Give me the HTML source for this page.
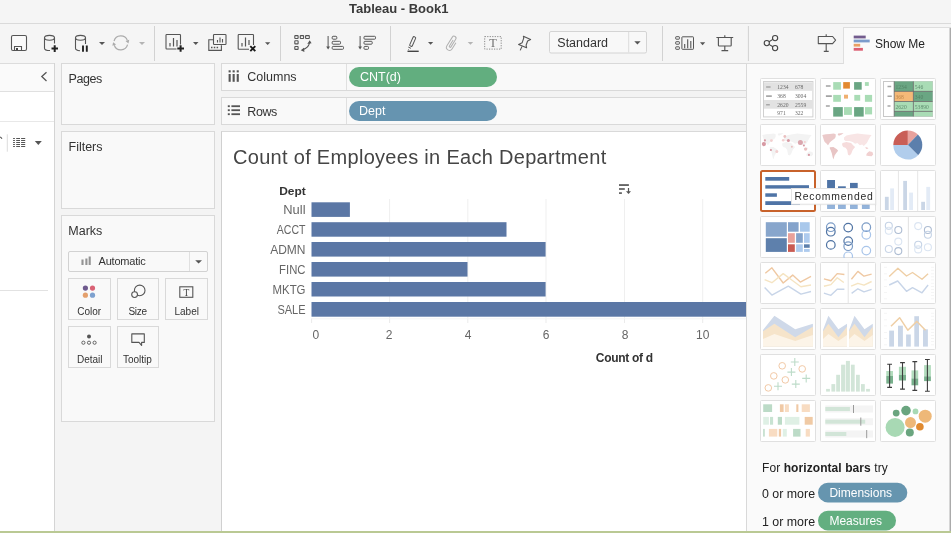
<!DOCTYPE html>
<html><head><meta charset="utf-8">
<style>
*{box-sizing:border-box;margin:0;padding:0}
html,body{width:951px;height:533px;overflow:hidden;will-change:transform;background:#f3f3f3;font-family:"Liberation Sans",Arial,sans-serif;color:#333}
.a{position:absolute}
.t{position:absolute;white-space:nowrap;line-height:1}
</style></head><body>
<!-- title bar -->
<div class="a" style="left:0;top:0;width:951px;height:23px;background:#f5f5f5"></div>
<div class="a" style="left:0;top:23px;width:951px;height:1px;background:#dadada"></div>
<div class="t" style="left:349px;top:2px;font-size:13px;font-weight:bold;color:#3a3a3a">Tableau - Book1</div>
<!-- toolbar bg -->
<div class="a" style="left:0;top:24px;width:951px;height:39px;background:#f5f5f5"></div>

<!-- left panel -->
<div class="a" style="left:0;top:63px;width:55px;height:468px;background:#fff;border-top:1px solid #dcdcdc;border-right:1px solid #d8d8d8"></div>
<div class="a" style="left:0;top:64px;width:54px;height:28px;background:#fafafa;border-bottom:1px solid #e0e0e0"></div>
<div class="a" style="left:0;top:121px;width:54px;height:1px;background:#e8e8e8"></div>
<div class="a" style="left:0;top:290px;width:48px;height:1px;background:#e2e2e2"></div>

<!-- middle column -->
<div class="a" style="left:54px;top:63px;width:168px;height:468px;background:#f4f4f4;border-left:1px solid #d4d4d4"></div>
<div class="a" style="left:61px;top:63px;width:154px;height:62px;background:#f9f9f9;border:1px solid #d9d9d9"></div>
<div class="a" style="left:61px;top:131px;width:154px;height:78px;background:#f9f9f9;border:1px solid #d9d9d9"></div>
<div class="a" style="left:61px;top:215px;width:154px;height:207px;background:#f9f9f9;border:1px solid #d9d9d9"></div>
<div class="t" style="left:68.5px;top:73.2px;font-size:12.5px;letter-spacing:-0.4px;color:#333">Pages</div>
<div class="t" style="left:68.5px;top:140.5px;font-size:12.5px;color:#333">Filters</div>
<div class="t" style="left:68.3px;top:224.7px;font-size:12.5px;color:#333">Marks</div>
<!-- left panel icons -->
<svg class="a" style="left:0;top:64px" width="54" height="100" viewBox="0 64 54 100" fill="none">
<path d="M46.5 72.3L41.8 76.6L46.5 80.9" stroke="#555" stroke-width="1.3"/>
<path d="M-1 137.2Q1.5 136.8 1.8 138.8" stroke="#666" stroke-width="1.2"/>
<line x1="7.3" y1="134.3" x2="7.3" y2="151.7" stroke="#dcdcdc"/>
<g stroke="#555" stroke-width="1.05">
<path d="M13.1 138.5H14.9M16.2 138.5H20M21.1 138.5H25.2"/>
<path d="M13.1 140.5H14.9M16.2 140.5H20M21.1 140.5H25.2"/>
<path d="M13.1 142.4H14.9M16.2 142.4H20M21.1 142.4H25.2"/>
<path d="M13.1 144.4H14.9M16.2 144.4H20M21.1 144.4H25.2"/>
<path d="M13.1 146.4H14.9M16.2 146.4H20M21.1 146.4H25.2"/>
</g>
<path d="M34.8 141H41.8L38.3 144.9Z" fill="#555"/>
</svg>
<!-- automatic dropdown -->
<div class="a" style="left:68px;top:251px;width:140px;height:21px;border:1px solid #d2d2d2;border-radius:2px;background:#f9f9f9"></div>
<div class="a" style="left:189px;top:252px;width:1px;height:19px;background:#e0e0e0"></div>
<div class="t" style="left:98.5px;top:256px;font-size:11px;letter-spacing:-0.2px;color:#333">Automatic</div>
<!-- mark buttons -->
<div class="a" style="left:68px;top:278px;width:43px;height:42px;border:1px solid #d9d9d9;background:#f9f9f9"></div>
<div class="a" style="left:117px;top:278px;width:42px;height:42px;border:1px solid #d9d9d9;background:#f9f9f9"></div>
<div class="a" style="left:165px;top:278px;width:43px;height:42px;border:1px solid #d9d9d9;background:#f9f9f9"></div>
<div class="a" style="left:68px;top:326px;width:43px;height:42px;border:1px solid #d9d9d9;background:#f9f9f9"></div>
<div class="a" style="left:117px;top:326px;width:42px;height:42px;border:1px solid #d9d9d9;background:#f9f9f9"></div>
<div class="t" style="left:77.3px;top:307px;font-size:10px;color:#333">Color</div>
<div class="t" style="left:128.5px;top:307px;font-size:10px;letter-spacing:-0.3px;color:#333">Size</div>
<div class="t" style="left:174.5px;top:307px;font-size:10px;color:#333">Label</div>
<div class="t" style="left:77px;top:355px;font-size:10px;color:#333">Detail</div>
<div class="t" style="left:123px;top:355px;font-size:10px;color:#333">Tooltip</div>
<svg class="a" style="left:62px;top:250px" width="152" height="120" viewBox="62 250 152 120" fill="none">
<path d="M82.5 264.9V259.6M86.4 264.9V258.4M89.7 264.9V256.4" stroke="#939393" stroke-width="2.1"/>
<path d="M195.2 260.2H202L198.6 263.5Z" fill="#555"/>
<circle cx="85.4" cy="288.1" r="2.6" fill="#6e5a8e"/>
<circle cx="92.5" cy="288.1" r="2.6" fill="#d96275"/>
<circle cx="85.4" cy="295.2" r="2.6" fill="#e4a06d"/>
<circle cx="92.5" cy="295.2" r="2.6" fill="#7ea1cf"/>
<circle cx="139.7" cy="290.4" r="5.3" stroke="#555" stroke-width="1.1"/>
<circle cx="134.6" cy="294.6" r="2.9" stroke="#555" stroke-width="1.1" fill="#f9f9f9"/>
<rect x="179.8" y="286.8" width="13" height="10.5" stroke="#555" stroke-width="1.1"/>
<text x="186.3" y="295.5" text-anchor="middle" font-family="Liberation Serif,serif" font-size="9.5" fill="#444">T</text>
<circle cx="89" cy="336.6" r="2" fill="#555"/>
<circle cx="83.4" cy="342.7" r="1.6" stroke="#555" stroke-width="0.9"/>
<circle cx="89" cy="342.7" r="1.6" stroke="#555" stroke-width="0.9"/>
<circle cx="94.6" cy="342.7" r="1.6" stroke="#555" stroke-width="0.9"/>
<path d="M131.8 333.9H144.3V342.4H141.6V345.4L139 342.4H131.8Z" stroke="#555" stroke-width="1.1" stroke-linejoin="round"/>
</svg>


<!-- shelves -->
<div class="a" style="left:221px;top:63px;width:525px;height:28px;background:#f9f9f9;border:1px solid #d9d9d9;border-right:none"></div>
<div class="a" style="left:221px;top:97px;width:525px;height:28px;background:#f9f9f9;border:1px solid #d9d9d9;border-right:none"></div>
<div class="a" style="left:346px;top:64px;width:1px;height:26px;background:#e0e0e0"></div>
<div class="a" style="left:346px;top:98px;width:1px;height:26px;background:#e0e0e0"></div>
<div class="t" style="left:247.3px;top:71px;font-size:12.5px;color:#333">Columns</div>
<svg class="a" style="left:226px;top:68px" width="16" height="50" viewBox="226 68 16 50">
<g fill="#555"><rect x="228.6" y="70.3" width="2.1" height="2.1"/><rect x="232.6" y="70.3" width="2.1" height="2.1"/><rect x="236.7" y="70.3" width="2.1" height="2.1"/>
<rect x="228.6" y="74" width="2.1" height="7.8"/><rect x="232.6" y="74" width="2.1" height="7.8"/><rect x="236.7" y="74" width="2.1" height="7.8"/>
<rect x="227.8" y="105.3" width="2" height="1.8"/><rect x="227.8" y="109.3" width="2" height="1.8"/><rect x="227.8" y="113.3" width="2" height="1.8"/>
<rect x="231.4" y="105.3" width="8.6" height="1.8"/><rect x="231.4" y="109.3" width="8.6" height="1.8"/><rect x="231.4" y="113.3" width="8.6" height="1.8"/></g>
</svg>
<div class="t" style="left:247.3px;top:106px;font-size:12.5px;letter-spacing:-0.4px;color:#333">Rows</div>
<div class="a" style="left:349px;top:67px;width:148px;height:20px;border-radius:10px;background:#62ae7f"></div>
<div class="a" style="left:349px;top:101px;width:148px;height:20px;border-radius:10px;background:#6694b0"></div>
<div class="t" style="left:360px;top:71px;font-size:12.5px;color:#fff">CNT(d)</div>
<div class="t" style="left:359px;top:105px;font-size:12.5px;color:#fff">Dept</div>

<!-- chart pane -->
<div class="a" style="left:221px;top:131px;width:525px;height:400px;background:#fff;border-top:1px solid #d9d9d9;border-left:1px solid #d0d0d0"></div>
<div class="t" style="left:233px;top:146.6px;font-size:20px;letter-spacing:0.3px;color:#454545">Count of Employees in Each Department</div>
<svg class="a" style="left:222px;top:132px" width="524" height="399" viewBox="222 132 524 399">
<g stroke="#efefef" stroke-width="1">
<line x1="389.6" y1="199" x2="389.6" y2="318"/>
<line x1="467.8" y1="199" x2="467.8" y2="318"/>
<line x1="546" y1="199" x2="546" y2="318"/>
<line x1="624.5" y1="199" x2="624.5" y2="318"/>
<line x1="702.7" y1="199" x2="702.7" y2="318"/>
<line x1="311.6" y1="318.8" x2="746" y2="318.8" stroke="#f4f4f4"/>
<path d="M311.6 318.5V323M389.6 318.5V323M467.8 318.5V323M546 318.5V323M624.5 318.5V323M702.7 318.5V323" stroke="#ebebeb"/>
</g>
<g fill="#5b77a5">
<rect x="311.5" y="202.3" width="38.4" height="14.6"/>
<rect x="311.5" y="222.2" width="195" height="14.5"/>
<rect x="311.5" y="242" width="234.1" height="14.6"/>
<rect x="311.5" y="262" width="156" height="14.6"/>
<rect x="311.5" y="282" width="234.1" height="14.5"/>
<rect x="311.5" y="302" width="440" height="14.7"/>
</g>
<g font-family="Liberation Sans,Arial,sans-serif" font-size="12" fill="#666" text-anchor="end">
<text x="305.5" y="213.8" textLength="22.2" lengthAdjust="spacingAndGlyphs">Null</text>
<text x="305.5" y="233.8" textLength="28.7" lengthAdjust="spacingAndGlyphs">ACCT</text>
<text x="305.5" y="253.6" textLength="35.3" lengthAdjust="spacingAndGlyphs">ADMN</text>
<text x="305.5" y="273.6" textLength="26.4" lengthAdjust="spacingAndGlyphs">FINC</text>
<text x="305.5" y="293.6" textLength="33.0" lengthAdjust="spacingAndGlyphs">MKTG</text>
<text x="305.5" y="314.1" textLength="28.1" lengthAdjust="spacingAndGlyphs">SALE</text>
</g>
<text x="305.8" y="195" text-anchor="end" font-family="Liberation Sans,Arial,sans-serif" font-size="11.3" font-weight="bold" fill="#333" textLength="26.6" lengthAdjust="spacingAndGlyphs">Dept</text>
<g font-family="Liberation Sans,Arial,sans-serif" font-size="12" fill="#666" text-anchor="middle">
<text x="312.6" y="339.3" text-anchor="start">0</text>
<text x="389.2" y="339.3">2</text>
<text x="468" y="339.3">4</text>
<text x="546" y="339.3">6</text>
<text x="625" y="339.3">8</text>
<text x="702.8" y="339.3">10</text>
</g>
<text x="624.3" y="362.3" text-anchor="middle" font-family="Liberation Sans,Arial,sans-serif" font-size="12" font-weight="bold" fill="#333" letter-spacing="-0.3">Count of d</text>
<!-- sort icon -->
<g fill="#555">
<rect x="619" y="184.2" width="9.9" height="1.7"/>
<rect x="619" y="188.2" width="5.8" height="1.6"/>
<rect x="619" y="192.3" width="2.9" height="1.6"/>
<rect x="627.9" y="188" width="1.2" height="4"/>
<path d="M626 191.2H631L628.5 194Z"/>
</g>
</svg>


<!-- right panel -->
<div class="a" style="left:746px;top:63px;width:205px;height:468px;background:#fafafa;border-left:1px solid #d9d9d9;border-top:1px solid #dcdcdc"></div>
<div class="a" style="left:843px;top:27px;width:108px;height:37px;background:#fafafa;border-left:1px solid #dedede;border-top:1px solid #dedede"></div>
<div class="t" style="left:875px;top:37.8px;font-size:12px;color:#222">Show Me</div>
<svg class="a" style="left:747px;top:64px" width="204" height="467" viewBox="747 64 204 467">

<!-- thumbnail frames -->
<g fill="#fff" stroke="#e0e0e0" stroke-width="1">
<rect x="760.5" y="78.5" width="55" height="41" rx="1"/><rect x="820.5" y="78.5" width="55" height="41" rx="1"/><rect x="880.5" y="78.5" width="55" height="41" rx="1"/>
<rect x="760.5" y="124.5" width="55" height="41" rx="1"/><rect x="820.5" y="124.5" width="55" height="41" rx="1"/><rect x="880.5" y="124.5" width="55" height="41" rx="1"/>
<rect x="820.5" y="170.5" width="55" height="41" rx="1"/><rect x="880.5" y="170.5" width="55" height="41" rx="1"/>
<rect x="760.5" y="216.5" width="55" height="41" rx="1"/><rect x="820.5" y="216.5" width="55" height="41" rx="1"/><rect x="880.5" y="216.5" width="55" height="41" rx="1"/>
<rect x="760.5" y="262.5" width="55" height="41" rx="1"/><rect x="820.5" y="262.5" width="55" height="41" rx="1"/><rect x="880.5" y="262.5" width="55" height="41" rx="1"/>
<rect x="760.5" y="308.5" width="55" height="41" rx="1"/><rect x="820.5" y="308.5" width="55" height="41" rx="1"/><rect x="880.5" y="308.5" width="55" height="41" rx="1"/>
<rect x="760.5" y="354.5" width="55" height="41" rx="1"/><rect x="820.5" y="354.5" width="55" height="41" rx="1"/><rect x="880.5" y="354.5" width="55" height="41" rx="1"/>
<rect x="760.5" y="400.5" width="55" height="41" rx="1"/><rect x="820.5" y="400.5" width="55" height="41" rx="1"/><rect x="880.5" y="400.5" width="55" height="41" rx="1"/>
</g>
<!-- r1c1 text table -->
<g transform="translate(760,78)">
<rect x="3.5" y="3.5" width="49.4" height="35.4" fill="#fff" stroke="#d0d0d0"/>
<rect x="4" y="4.3" width="48.4" height="8.5" fill="#e2e2e2"/>
<rect x="4" y="22" width="48.4" height="8.7" fill="#e2e2e2"/>
<g stroke="#a8a8a8" stroke-width="1.6"><path d="M6.1 9H10.6M6.1 18.1H11.8M6.1 26.8H9.8"/></g>
<g font-family="Liberation Serif,serif" font-size="5.6" fill="#6a6a6a">
<text x="17.3" y="10.6">1234</text><text x="35" y="10.6">678</text>
<text x="17.3" y="19.7">368</text><text x="35" y="19.7">3004</text>
<text x="17.3" y="28.5">2620</text><text x="35" y="28.5">2559</text>
<text x="17.3" y="36.9">971</text><text x="35" y="36.9">322</text>
</g>
</g>
<!-- r1c2 heat map -->
<g transform="translate(820,78)">
<g stroke="#a3a3a3" stroke-width="1.7"><path d="M5.9 8H10.6M5.9 18.1H11.8M5.9 28H9.8"/></g>
<rect x="13.2" y="4.1" width="7.7" height="7.6" fill="#a9dcb5"/>
<rect x="23.2" y="4.1" width="6.7" height="6.5" fill="#e38a30"/>
<rect x="34.1" y="4.1" width="7.6" height="7.6" fill="#6aa683"/>
<rect x="44.9" y="4.1" width="3.9" height="3.8" fill="#a9dcb5"/>
<rect x="13.2" y="16.9" width="7.7" height="6.9" fill="#a9dcb5"/>
<rect x="24" y="16.7" width="4" height="3.9" fill="#f0b070"/>
<rect x="34.3" y="16.9" width="5.9" height="5.8" fill="#a9dcb5"/>
<rect x="44.9" y="16.9" width="7.2" height="6.9" fill="#a9dcb5"/>
<rect x="13.2" y="29.1" width="9.6" height="9.5" fill="#6aa683"/>
<rect x="24" y="29.1" width="7.9" height="7.8" fill="#a9dcb5"/>
<rect x="34.1" y="29.1" width="9.6" height="9.5" fill="#6aa683"/>
<rect x="45" y="29.1" width="7.1" height="7.3" fill="#a9dcb5"/>
</g>
<!-- r1c3 highlight table -->
<g transform="translate(880,78)">
<rect x="3.5" y="3.5" width="49" height="35" fill="#fff" stroke="#c8c8c8"/>
<rect x="14.2" y="3.4" width="19.2" height="10" fill="#6aa683"/><rect x="33.4" y="3.4" width="19.2" height="10" fill="#a9dcb5"/>
<rect x="14.2" y="13.4" width="19.2" height="10.1" fill="#f4b978"/><rect x="33.4" y="13.4" width="19.2" height="10.1" fill="#6aa683"/>
<rect x="14.2" y="23.5" width="19.2" height="9.9" fill="#a9dcb5"/><rect x="33.4" y="23.5" width="19.2" height="9.9" fill="#a9dcb5"/>
<rect x="14.2" y="33.4" width="19.2" height="5" fill="#6aa683"/><rect x="33.4" y="33.4" width="19.2" height="5" fill="#a9dcb5"/>
<g stroke="#666" stroke-width="0.8"><path d="M14.2 3.4V38.4M33.4 3.4V38.4M14.2 13.4H52.6M14.2 23.5H52.6M14.2 33.4H52.6"/></g>
<g stroke="#a8a8a8" stroke-width="1.6"><path d="M7.5 8.5H11.2M7.5 18.2H11.8M7.5 28H10.5"/></g>
<g font-family="Liberation Serif,serif" font-size="5.6" fill="#4d7a5e" opacity="0.8">
<text x="15.5" y="10.5">1234</text><text x="34.8" y="10.5">546</text>
<text x="15.5" y="20.5" fill="#b07a40">368</text><text x="34.8" y="20.5">340</text>
<text x="15.5" y="30.5">2620</text><text x="34.8" y="30.5">53890</text>
</g>
</g>
<!-- r2c1 symbol map -->
<g transform="translate(760,124)" fill="#f3f3f3">
<path d="M2.3 11L5.9 10.3L9.8 9.9L13.8 9.5L15.7 10.3L15.7 12.6L15 14.2L13.4 15.4L11.4 17L9.8 18.5L8.6 20.5L7.9 21.3L6.7 19.7L4.7 18.1L3.9 16.2L3.1 13.4Z M18.1 9.5L23.6 9.1L21.7 10.6L18.9 11.8L17.7 10.6Z"/><path d="M9.8 23.3L13.4 22.9L16.9 25.2L18.1 26.8L16.1 29.2L14.6 31.5L13.4 35.5L12.6 33.1L11.8 29.2L10.6 26L9.8 24.4Z"/><path d="M24 13.4L26.4 11.4L31.1 10.6L37.4 9.5L43.7 10.3L51.6 11L50.1 13L48.5 15.8L46.9 18.9L45.3 20.5L43.7 22.1L42.2 20.5L39.8 21.3L37.4 18.9L35.1 19.7L32.7 18.1L29.5 17L25.6 17L24 15.8Z"/><path d="M22.4 18.9L26.4 18.1L31.1 18.9L33.1 21.3L35.1 22.9L32.7 26L31.1 30L29.5 31.5L28 30.8L27.2 26L25.6 23.7L23.2 22.9L22.1 20.9Z"/><path d="M46.9 29.2L49.3 27.2L52.4 28L53.2 30.4L51.6 32.3L48.5 31.9L46.1 31.5Z M45 23.5L47 23.2L48.5 24.5L46.5 25Z"/>
<g fill="#d799a3">
<circle cx="3.9" cy="20.1" r="2.1"/><circle cx="4.9" cy="16.4" r="1.1"/><circle cx="10.9" cy="26" r="1.1"/>
<circle cx="28.4" cy="16.6" r="1.5"/><circle cx="40.4" cy="18.5" r="2.5" fill="#dba6ae"/><circle cx="43.9" cy="21.5" r="1"/><circle cx="48.9" cy="30.9" r="1.1"/>
</g>
<g fill="#f2cfcf">
<circle cx="11.4" cy="16.6" r="1.4"/><circle cx="16.8" cy="27.6" r="1.5"/><circle cx="24.8" cy="12.5" r="1.4" fill="#ebc0c0"/><circle cx="23.2" cy="16.2" r="1.3"/>
<circle cx="31.9" cy="22.7" r="1" fill="#ebc0c0"/><circle cx="44.9" cy="18" r="1"/><circle cx="45.6" cy="25.1" r="1.7" fill="#ebc0c0"/>
</g>
</g>
<!-- r2c2 filled map -->
<g transform="translate(820,124)">
<path d="M2.3 11L5.9 10.3L9.8 9.9L13.8 9.5L15.7 10.3L15.7 12.6L15 14.2L13.4 15.4L11.4 17L9.8 18.5L8.6 20.5L7.9 21.3L6.7 19.7L4.7 18.1L3.9 16.2L3.1 13.4Z M18.1 9.5L23.6 9.1L21.7 10.6L18.9 11.8L17.7 10.6Z" fill="#ebcaca"/><path d="M9.8 23.3L13.4 22.9L16.9 25.2L18.1 26.8L16.1 29.2L14.6 31.5L13.4 35.5L12.6 33.1L11.8 29.2L10.6 26L9.8 24.4Z" fill="#e8c5c5"/><path d="M24 13.4L26.4 11.4L31.1 10.6L37.4 9.5L43.7 10.3L51.6 11L50.1 13L48.5 15.8L46.9 18.9L45.3 20.5L43.7 22.1L42.2 20.5L39.8 21.3L37.4 18.9L35.1 19.7L32.7 18.1L29.5 17L25.6 17L24 15.8Z" fill="#f8e5e5"/><path d="M22.4 18.9L26.4 18.1L31.1 18.9L33.1 21.3L35.1 22.9L32.7 26L31.1 30L29.5 31.5L28 30.8L27.2 26L25.6 23.7L23.2 22.9L22.1 20.9Z" fill="#f6dcdc"/><path d="M46.9 29.2L49.3 27.2L52.4 28L53.2 30.4L51.6 32.3L48.5 31.9L46.1 31.5Z M45 23.5L47 23.2L48.5 24.5L46.5 25Z" fill="#f1d0d0"/>
</g>
<!-- r2c3 pie -->
<g transform="translate(907.8,144.9)">
<path d="M0 0L0 -14.5A14.5 14.5 0 0 1 10.07 -10.43Z" fill="#e8a29d"/>
<path d="M0 0L10.07 -10.43A14.5 14.5 0 0 1 10.25 10.25Z" fill="#5c7fac"/>
<path d="M0 0L10.25 10.25A14.5 14.5 0 0 1 -14.5 0Z" fill="#b1cdec"/>
<path d="M0 0L-14.5 0A14.5 14.5 0 0 1 0 -14.5Z" fill="#c95e56"/>
</g>
<!-- r3c1 selected hbars -->
<rect x="761" y="171" width="54" height="40" rx="1.5" fill="#fff" stroke="#c8622b" stroke-width="2"/>
<g fill="#4f74a6">
<rect x="765.3" y="177" width="23.9" height="3.7"/><rect x="765.3" y="185.2" width="43.7" height="3.4"/>
<rect x="765.3" y="193.3" width="11.6" height="3.5"/><rect x="765.3" y="201.2" width="34.7" height="3.8"/>
</g>
<!-- r3c2 stacked bars -->
<g transform="translate(820,170)">
<rect x="7.1" y="10" width="7.9" height="16" fill="#4f74a6"/><rect x="7.1" y="26" width="7.9" height="13" fill="#93b3da"/>
<rect x="18" y="16.3" width="7.8" height="10" fill="#4f74a6"/><rect x="18" y="26.3" width="7.8" height="12.7" fill="#93b3da"/>
<rect x="30" y="12.9" width="7.7" height="13" fill="#4f74a6"/><rect x="30" y="25.9" width="7.7" height="13.1" fill="#93b3da"/>
<rect x="41.9" y="20" width="7.8" height="8" fill="#4f74a6"/><rect x="41.9" y="28" width="7.8" height="11" fill="#93b3da"/>
</g>
<!-- r3c3 side by side -->
<g transform="translate(880,170)">
<path d="M18.4 1V41M37.7 1V41" stroke="#e6e6e6"/>
<g fill="#cad6e6"><rect x="4.9" y="26.8" width="3.8" height="13.2"/><rect x="23.2" y="10.9" width="3.8" height="29.1"/><rect x="41.2" y="31.8" width="3.8" height="8.2"/></g>
<g fill="#e3ebf6"><rect x="10.2" y="18.4" width="3.8" height="21.6"/><rect x="29.2" y="22.6" width="3.8" height="17.4"/><rect x="46.3" y="16.9" width="3.8" height="23.1"/></g>
</g>
<!-- tooltip -->
<rect x="792.5" y="189.5" width="84" height="15.7" fill="#000" opacity="0.06"/><rect x="791.5" y="188.5" width="84" height="15.7" fill="#fff" stroke="#e4e4e4"/>
<text x="794.4" y="200" font-family="Liberation Sans,sans-serif" font-size="10.4" letter-spacing="0.8" fill="#2a2a2a">Recommended</text>
<!-- r4c1 treemap -->
<g transform="translate(760,216)">
<rect x="5.8" y="6.2" width="21" height="14.5" fill="#88a6cc"/><rect x="5.8" y="22.2" width="21" height="13.7" fill="#5e80ac"/>
<rect x="28" y="6.2" width="10.6" height="9.5" fill="#84a3cb"/><rect x="40" y="6.2" width="9.7" height="9.5" fill="#a9c8eb"/>
<rect x="28" y="17.2" width="6.8" height="9.6" fill="#e9a19a"/><rect x="28" y="28.3" width="6.8" height="7.6" fill="#c95b53"/>
<rect x="36.1" y="17.2" width="6.7" height="9.6" fill="#84a3cb"/><rect x="44" y="17.2" width="5.7" height="9.6" fill="#aecbee"/>
<rect x="36.1" y="28.3" width="6.7" height="7.6" fill="#aecbee"/><rect x="44" y="28.3" width="5.7" height="3.5" fill="#5e80ac"/>
<rect x="44" y="33" width="5.7" height="2.9" fill="#aecbee"/>
</g>
<!-- r4c2 circles -->
<g transform="translate(820,216)" fill="none" stroke-width="1.2">
<circle cx="10.8" cy="11.2" r="4.3" stroke="#7c9cc6"/><circle cx="10.8" cy="15.7" r="4.3" stroke="#4f73a3"/><circle cx="10.8" cy="28.9" r="4.3" stroke="#4f73a3"/>
<circle cx="28.2" cy="11.6" r="4.3" stroke="#4f73a3"/><circle cx="28.2" cy="25.1" r="4.3" stroke="#4f73a3"/><circle cx="28.2" cy="30.2" r="4.3" stroke="#7c9cc6"/>
<circle cx="28.2" cy="40.3" r="4.3" stroke="#a9c5ea"/>
<circle cx="46.3" cy="11.2" r="4.3" stroke="#7c9cc6"/><circle cx="46.3" cy="18.8" r="4.3" stroke="#a9c5ea"/><circle cx="46.3" cy="34.6" r="4.3" stroke="#a9c5ea"/>
</g>
<rect x="820" y="258" width="56" height="4" fill="#fafafa"/>
<!-- r4c3 side circles -->
<g transform="translate(880,216)" fill="none" stroke-width="1.1">
<path d="M28.4 1V41" stroke="#e4e4e4"/>
<circle cx="8.8" cy="9.7" r="3.5" stroke="#c5d3e6"/><circle cx="8.8" cy="14.8" r="3.5" stroke="#dbe5f2"/><circle cx="18.3" cy="14" r="3.5" stroke="#aebdd3"/>
<circle cx="18.3" cy="25.6" r="3.5" stroke="#dbe5f2"/><circle cx="8.8" cy="33" r="3.5" stroke="#cad6e8"/><circle cx="18.3" cy="35.1" r="3.5" stroke="#aebdd3"/>
<circle cx="38.2" cy="10.1" r="3.5" stroke="#dbe5f2"/><circle cx="47.9" cy="14" r="3.5" stroke="#aebdd3"/><circle cx="47.9" cy="18.7" r="3.5" stroke="#c5d3e6"/>
<circle cx="38.2" cy="28.7" r="3.5" stroke="#c5d3e6"/><circle cx="38.2" cy="33.4" r="3.5" stroke="#dbe5f2"/><circle cx="47.9" cy="31.2" r="3.5" stroke="#dbe5f2"/>
</g>
<!-- r5c1 lines -->
<g transform="translate(760,262)" fill="none" stroke-width="1.4" stroke-linejoin="round">
<polyline points="5.3,11.2 11.9,5.8 23.2,21 32.7,13.1 40.3,20.1 51,14.4" stroke="#efc8a2"/>
<polyline points="4.6,17.6 11.9,20.7 23.2,11.6 32.1,18.2 40.9,24.8 51,23" stroke="#f5e4c2"/>
<polyline points="4.6,25.5 11.9,33.1 28.3,24.2 40.9,32.1 51,29.5" stroke="#c8d5e8"/>
</g>
<!-- r5c2 discrete lines -->
<g transform="translate(820,262)" fill="none" stroke-width="1.4" stroke-linejoin="round">
<path d="M28.2 1V41" stroke="#e4e4e4" stroke-width="1"/>
<polyline points="3.9,16.9 10.9,18.8 17.2,11.6 24.4,12.5" stroke="#efc8a2"/>
<polyline points="3.9,24.2 10.9,22.6 17.2,15.7 23.8,20.5" stroke="#f5e4c2"/>
<polyline points="3.9,31.1 10.9,33.3 17.2,27.3 24.4,27.3" stroke="#c8d5e8"/>
<polyline points="31.4,17.2 37.9,9.4 44,14.2 51.6,12.1" stroke="#efc8a2"/>
<polyline points="31.1,24.2 37.9,21.3 44,23.2 51.6,19.5" stroke="#f5e4c2"/>
<polyline points="31.6,31.4 37.9,26.8 44,29.8 51.6,27.3" stroke="#c8d5e8"/>
</g>
<!-- r5c3 dual lines -->
<g transform="translate(880,262)" fill="none" stroke-width="1.4" stroke-linejoin="round">
<g stroke="#eeeeee" stroke-width="0.6"><path d="M4 5.3H7M4 11.8H7M4 17.9H7M4 24.5H7M4 30.5H7M4 36.8H7M51 5.3H54M51 8.3H54M51 11.8H54M51 14.8H54M51 17.9H54M51 21.4H54M51 24.5H54M51 27.5H54M51 30.5H54M51 33.5H54M51 36.8H54"/></g>
<polyline points="9.2,14.4 17.9,6.2 26.5,14 32.5,10.5 42,17.2 48.1,11.8" stroke="#efcfa6"/>
<polyline points="9.2,23 17.7,19 26.5,29.3 32.5,25.6 42,30.8 48.1,23" stroke="#c8d5e8"/>
</g>
<!-- r6c1 area -->
<g transform="translate(760,308)">
<path d="M3 22L14.4 7.8L35.2 21.3L52.9 15.7V38.6H3Z" fill="#cfd9e9"/>
<path d="M3 23.2L14.4 15.7L35.2 29.3L52.9 18.8V38.6H3Z" fill="#f6e4ca"/>
<path d="M3 31.1L14.4 26L35.2 33.1L52.9 27V38.6H3Z" fill="#fcf4e8"/>
</g>
<!-- r6c2 discrete area -->
<g transform="translate(820,308)">
<path d="M3 22L8.4 7.8L18.4 21.3L27 15.7V38.6H3Z" fill="#cfd9e9"/>
<path d="M3 23.2L8.4 15.7L18.4 29.3L27 18.8V38.6H3Z" fill="#f6e4ca"/>
<path d="M3 31.1L8.4 26L18.4 33.1L27 27V38.6H3Z" fill="#fcf4e8"/>
<path d="M29.1 22L34.5 7.8L44.5 21.3L52.8 15.7V38.6H29.1Z" fill="#cfd9e9"/>
<path d="M29.1 23.2L34.5 15.7L44.5 29.3L52.8 18.8V38.6H29.1Z" fill="#f6e4ca"/>
<path d="M29.1 31.1L34.5 26L44.5 33.1L52.8 27V38.6H29.1Z" fill="#fcf4e8"/>
</g>
<!-- r6c3 combo -->
<g transform="translate(880,308)">
<g stroke="#eeeeee" stroke-width="0.6"><path d="M4 5.3H7M4 11.8H7M4 17.9H7M4 24.5H7M4 30.5H7M4 36.8H7M51 5.3H54M51 8.3H54M51 11.8H54M51 14.8H54M51 17.9H54M51 21.4H54M51 24.5H54M51 27.5H54M51 30.5H54M51 33.5H54M51 36.8H54"/></g>
<g fill="#cad6e7"><rect x="9.2" y="22.6" width="4.8" height="16"/><rect x="18" y="17.7" width="4.9" height="20.9"/><rect x="26.1" y="26.5" width="4.7" height="12.1"/><rect x="34.3" y="8.2" width="4.7" height="30.4"/><rect x="43" y="21.3" width="4.9" height="17.3"/></g>
<polyline points="11,18.3 19.6,9.7 27.8,22.2 36.9,13.4 45.5,22.2" fill="none" stroke="#efcfa6" stroke-width="1.5" stroke-linejoin="round"/>
</g>
<!-- r7c1 scatter -->
<g transform="translate(760,354)" fill="none">
<g stroke="#f2c9a6" stroke-width="1"><circle cx="22.2" cy="11.8" r="3.3"/><circle cx="42.2" cy="14.9" r="3.3"/><circle cx="13.8" cy="21.9" r="3.3"/><circle cx="25.3" cy="25.9" r="3.3"/><circle cx="8.3" cy="33.9" r="3.3"/></g>
<g stroke="#bddcc9" stroke-width="1.1"><path d="M30.8 8H38.8M34.8 4V12M27.4 18.1H35.4M31.4 14.1V22.1M42.2 24.4H50.2M46.2 20.4V28.4M31.8 30.1H39.8M35.8 26.1V34.1M14 32.2H22M18 28.2V36.2"/></g>
</g>
<!-- r7c2 histogram -->
<g transform="translate(820,354)" fill="#d2e5d8">
<rect x="6.1" y="34.9" width="3.8" height="2.7"/><rect x="11.4" y="30.1" width="3.8" height="7.5"/><rect x="16.2" y="20.8" width="3.8" height="16.8"/>
<rect x="21.1" y="10.7" width="4.2" height="26.9"/><rect x="25.9" y="6.9" width="4" height="30.7"/><rect x="30.9" y="10.7" width="3.8" height="26.9"/>
<rect x="36" y="20.8" width="3.8" height="16.8"/><rect x="41" y="30.1" width="3.8" height="7.5"/><rect x="46.1" y="34.9" width="3.8" height="2.7"/>
</g>
<!-- r7c3 box whisker -->
<g transform="translate(880,354)">
<rect x="6.3" y="17" width="6.7" height="5" fill="#b2dcbd"/><rect x="6.3" y="22" width="6.7" height="7.6" fill="#78b08c"/>
<rect x="18.9" y="12.8" width="7.1" height="8" fill="#b2dcbd"/><rect x="18.9" y="20.8" width="7.1" height="5.7" fill="#78b08c"/>
<rect x="31.5" y="16.4" width="6.7" height="8" fill="#b2dcbd"/><rect x="31.5" y="24.4" width="6.7" height="6.9" fill="#78b08c"/>
<rect x="44.1" y="11.1" width="6.8" height="11.2" fill="#b2dcbd"/><rect x="44.1" y="22.3" width="6.8" height="4.8" fill="#78b08c"/>
<g stroke="#3d3d3d" stroke-width="1.1" fill="none"><path d="M9.6 10.3V33.4M7.2 10.3H12M7.2 33.4H12M22.5 8.6V35.1M20.1 8.6H24.9M20.1 35.1H24.9M34.8 7.6V36.4M32.4 7.6H37.2M32.4 36.4H37.2M47.4 5.5V37.2M45 5.5H49.8M45 37.2H49.8"/></g>
</g>
<!-- r8c1 gantt -->
<g transform="translate(760,400)">
<rect x="3.2" y="4.3" width="8.9" height="7.7" fill="#bcdbc7"/><rect x="19.9" y="4.3" width="3.7" height="7.7" fill="#f0c9a5"/><rect x="24.9" y="4.3" width="4" height="7.7" fill="#f8dcc2"/><rect x="36.3" y="4.3" width="2.1" height="7.7" fill="#f0c9a5"/><rect x="41.7" y="4.3" width="8.2" height="7.7" fill="#f8dcc2"/>
<rect x="3.2" y="16.9" width="5.7" height="7.8" fill="#dff0e5"/><rect x="10" y="16.9" width="3.1" height="7.8" fill="#c8e3d2"/><rect x="17.8" y="16.9" width="4.2" height="7.8" fill="#bcdbc7"/><rect x="24.9" y="16.9" width="14.5" height="7.8" fill="#dff0e5"/><rect x="44.7" y="16.9" width="8" height="7.8" fill="#f0caa5"/>
<rect x="3.2" y="28.9" width="1.5" height="7.7" fill="#bcdbc7"/><rect x="8.9" y="28.9" width="8.4" height="7.7" fill="#f8dcc2"/><rect x="18.8" y="28.9" width="2.3" height="7.7" fill="#f0c9a5"/><rect x="22.8" y="28.9" width="4" height="7.7" fill="#dff0e5"/><rect x="33.1" y="28.9" width="7.4" height="7.7" fill="#bcdbc7"/><rect x="45.7" y="28.9" width="4.2" height="7.7" fill="#f8dcc2"/>
</g>
<!-- r8c2 bullet -->
<g transform="translate(820,400)">
<rect x="5.3" y="5.5" width="47.7" height="7" fill="#f4f4f4"/><rect x="5.3" y="18.2" width="47.7" height="7" fill="#f4f4f4"/><rect x="5.3" y="30.5" width="47.7" height="7" fill="#f4f4f4"/>
<rect x="5.3" y="7" width="24.6" height="4" fill="#d2e5d8"/><rect x="5.3" y="19.7" width="39.9" height="4" fill="#d2e5d8"/><rect x="5.3" y="32" width="21" height="4" fill="#d2e5d8"/>
<g stroke="#9a9a9a" stroke-width="1"><path d="M33.5 5V13M40.8 17.5V25.7M46.7 30V38.2"/></g>
</g>
<!-- r8c3 bubbles -->
<g transform="translate(880,400)">
<circle cx="15.1" cy="27.4" r="9.5" fill="#a8d9b4"/><circle cx="26" cy="10.6" r="4.8" fill="#6aa57f"/><circle cx="16.2" cy="13.1" r="3.4" fill="#6aa57f"/>
<circle cx="35.5" cy="11.4" r="2.9" fill="#a8d9b4"/><circle cx="45.2" cy="16.2" r="6.5" fill="#eeb878"/><circle cx="30.5" cy="22.6" r="5.5" fill="#eeb878"/>
<circle cx="39.9" cy="26.8" r="3.8" fill="#e08a30"/><circle cx="29.8" cy="32.4" r="4" fill="#6aa57f"/>
</g>
<!-- pills -->
<rect x="818" y="482.8" width="89.3" height="19.7" rx="9.85" fill="#6695af"/>
<rect x="818" y="510.8" width="78" height="19.7" rx="9.85" fill="#63af80"/>
</svg>
<div class="t" style="left:762px;top:462px;font-size:12px;letter-spacing:0.08px;color:#222">For <b>horizontal bars</b> try</div>
<div class="t" style="left:762px;top:487.7px;font-size:12.4px;color:#222">0 or more</div>
<div class="t" style="left:762px;top:515.7px;font-size:12.4px;color:#222">1 or more</div>
<div class="t" style="left:829.4px;top:487px;font-size:12px;color:#fff">Dimensions</div>
<div class="t" style="left:829.4px;top:515px;font-size:12px;color:#fff">Measures</div>


<div class="a" style="left:949px;top:28px;width:1px;height:503px;background:#d6d6d6"></div>
<div class="a" style="left:950px;top:28px;width:1px;height:503px;background:#ababab"></div>
<!-- bottom bar -->
<div class="a" style="left:0;top:531px;width:951px;height:2px;background:#bac994"></div>
<svg class="a" style="left:0;top:0" width="951" height="64" viewBox="0 0 951 64" fill="none" stroke-linecap="butt">
<!-- save -->
<rect x="11.5" y="35.5" width="15" height="15" rx="1.5" stroke="#555" stroke-width="1.1" fill="#fafafa"/>
<path d="M14.5 50.5V46.5H21.5V50.5" stroke="#555" stroke-width="1.1"/>
<rect x="16" y="48" width="2" height="2" fill="#444"/>
<!-- cylinder + -->
<ellipse cx="49.5" cy="37.8" rx="5" ry="2.4" stroke="#555" stroke-width="1.1"/>
<path d="M44.5 37.8V48.2C44.5 49.6 47 50.5 50 50.5M54.5 37.8V43.5" stroke="#555" stroke-width="1.1"/>
<path d="M51.5 48.6H58M54.7 45.3V51.9" stroke="#222" stroke-width="2"/>
<!-- cylinder pause -->
<ellipse cx="80.5" cy="37.8" rx="5" ry="2.4" stroke="#555" stroke-width="1.1"/>
<path d="M75.5 37.8V48.2C75.5 49.6 77 50.5 80 50.8M85.5 37.8V44" stroke="#555" stroke-width="1.1"/>
<path d="M83 45.5V51.8M86.8 45.5V51.8" stroke="#222" stroke-width="1.9"/>
<path d="M99 42H105L102 45Z" fill="#555"/>
<!-- refresh -->
<path d="M114.04 40.99A7 7 0 0 1 127.38 40.41M127.56 44.61A7 7 0 0 1 114.22 45.19" stroke="#ababab" stroke-width="1.2"/>
<path d="M129.26 39.73L125.5 41.09L128.47 43.42Z M112.34 45.87L116.1 44.51L113.13 42.18Z" fill="#ababab"/>
<path d="M139 42H145L142 45Z" fill="#b4b4b4"/>
<line x1="154.5" y1="26" x2="154.5" y2="61" stroke="#d2d2d2"/>
<!-- new worksheet -->
<path d="M180.5 44.5V35.2C180.5 34.8 180.2 34.5 179.8 34.5H166.7C166.3 34.5 166 34.8 166 35.2V48.3C166 48.7 166.3 49 166.7 49H176.5" stroke="#555" stroke-width="1.1"/>
<path d="M170 46.5V43M173.5 46.5V38M177 46.5V40" stroke="#555" stroke-width="1.2"/>
<path d="M177.3 48.5H184M180.6 45.2V51.8" stroke="#222" stroke-width="2"/>
<path d="M193 42H198.5L195.75 45Z" fill="#555"/>
<!-- duplicate -->
<rect x="213.5" y="34.5" width="12.5" height="10" rx="0.8" stroke="#555" stroke-width="1.1"/>
<path d="M213.3 39.8H208.8V50.4H221.4V45.3" stroke="#555" stroke-width="1.1"/>
<path d="M217.5 42.5V40M220 42.5V37.5M222.5 42.5V39" stroke="#555" stroke-width="1.1"/>
<path d="M211 47.5H212.5M213.8 47.5H215.3M216.6 47.5H218.1" stroke="#555" stroke-width="1.3"/>
<!-- clear -->
<path d="M253.5 45V35.2C253.5 34.8 253.2 34.5 252.8 34.5H238.9C238.5 34.5 238.2 34.8 238.2 35.2V48.6C238.2 49 238.5 49.3 238.9 49.3H249" stroke="#555" stroke-width="1.1"/>
<path d="M242 46.5V43M245.5 46.5V37.5M249 45V40" stroke="#555" stroke-width="1.2"/>
<path d="M250.3 46.1L255.3 51.1M255.3 46.1L250.3 51.1" stroke="#1a1a1a" stroke-width="1.9"/>
<path d="M265 42.3H270.3L267.65 45Z" fill="#555"/>
<line x1="280.5" y1="26" x2="280.5" y2="61" stroke="#d2d2d2"/>
<!-- swap -->
<g stroke="#555" stroke-width="1.1">
<rect x="294.8" y="35.6" width="3.3" height="2.9" rx="0.5"/><rect x="300.3" y="35.6" width="3.3" height="2.9" rx="0.5"/><rect x="305.6" y="35.6" width="3.7" height="2.9" rx="0.5"/>
<rect x="294.8" y="40.8" width="3.3" height="3.1" rx="0.5"/><rect x="294.8" y="46.5" width="3.3" height="2.9" rx="0.5"/>
<path d="M303 49.6Q308.2 48 309.5 43.2"/>
</g>
<path d="M307.3 43.9L311.6 43.3L309.7 40.2Z M304 47.7L304.4 51.9L300.7 50.3Z" fill="#555"/>
<!-- sort asc -->
<g stroke="#555" stroke-width="1">
<line x1="328.1" y1="36" x2="328.1" y2="47.5"/>
<rect x="332.2" y="36.3" width="4.6" height="2.9" rx="0.9"/>
<rect x="332.2" y="41.3" width="8.3" height="2.9" rx="0.9"/>
<rect x="332.2" y="46.4" width="11.3" height="2.9" rx="0.9"/>
<line x1="360.1" y1="36" x2="360.1" y2="47.5"/>
<rect x="364" y="36.3" width="11.5" height="2.9" rx="0.9"/>
<rect x="364" y="41.3" width="8.2" height="2.9" rx="0.9"/>
<rect x="364" y="46.4" width="4.5" height="2.9" rx="0.9"/>
</g>
<path d="M326.2 46.6H330L328.1 49.4Z M358.2 46.6H362L360.1 49.4Z" fill="#555"/>
<line x1="390.5" y1="26" x2="390.5" y2="61" stroke="#d2d2d2"/>
<!-- highlighter -->
<rect x="-1.4" y="-5" width="2.8" height="10" rx="1" transform="translate(412.7,41.5) rotate(24)" stroke="#555" stroke-width="1"/>
<path d="M408.3 47.1L410.9 48.3M408.2 49.4L408.8 49.8" stroke="#555" stroke-width="1"/>
<line x1="407.5" y1="51.3" x2="418.7" y2="51.3" stroke="#444" stroke-width="1.4"/>
<path d="M428 42H433.2L430.6 44.8Z" fill="#555"/>
<!-- paperclip -->
<g transform="translate(452,43.3) rotate(32) translate(-3.2,-8)" fill="none" stroke="#b0b0b0" stroke-width="1">
<path d="M2.4 4.6V11.6A0.9 0.9 0 0 0 4.2 11.6V2.6A2 2 0 0 0 0.2 2.6V12.8A3 3 0 0 0 6.2 12.8V5.4"/>
</g>
<path d="M467.7 42H473.2L470.45 44.8Z" fill="#b4b4b4"/>
<!-- T box -->
<rect x="484.7" y="36.6" width="16.5" height="12.5" stroke="#888" stroke-width="1" stroke-dasharray="1.2 1.3"/>
<text x="493.1" y="47.3" text-anchor="middle" font-family="Liberation Serif,serif" font-size="12.3" fill="#707070" stroke="none">T</text>
<!-- pin -->
<path d="M523.4 36.3L530.6 39.5L527.6 41L526.1 45.2L526.6 47.8L518.6 44.4L522.2 42.7L523.8 37.9Z M521.9 46.6L520.2 50.4" stroke="#555" stroke-width="1.1" stroke-linejoin="round"/>
<!-- Standard dropdown -->
<rect x="549.5" y="31.5" width="97" height="21.5" rx="1.5" fill="#f8f8f8" stroke="#d4d4d4"/>
<line x1="628.7" y1="32" x2="628.7" y2="52.5" stroke="#dcdcdc"/>
<path d="M634.3 41.3H640.6L637.45 44.5Z" fill="#555"/>
<line x1="662.5" y1="26" x2="662.5" y2="61" stroke="#d2d2d2"/>
<!-- show cards -->
<g stroke="#555" stroke-width="1">
<rect x="675.7" y="36.7" width="3.7" height="2.5" rx="0.5"/>
<rect x="675.7" y="41.7" width="3.7" height="2.5" rx="0.5"/>
<rect x="675.7" y="46.8" width="3.7" height="2.5" rx="0.5"/>
<rect x="681.9" y="36.8" width="11.6" height="12.5" rx="0.6"/>
</g>
<path d="M684.7 48.2V44M687.7 48.2V39.2M690.8 48.2V41" stroke="#555" stroke-width="1.1"/>
<path d="M700 42.3H705.2L702.6 45.2Z" fill="#555"/>
<!-- presentation -->
<path d="M716.4 37.5H733.2M718.4 37.5V45.2Q718.4 46 719.2 46H730.4Q731.2 46 731.2 45.2V37.5M724.8 35.3V37M724.8 46V50.3M721.5 50.6H728.2" stroke="#555" stroke-width="1.15"/>
<line x1="748.4" y1="26" x2="748.4" y2="61" stroke="#d2d2d2"/>
<!-- share -->
<g stroke="#444" stroke-width="1.1"><circle cx="766.8" cy="43.1" r="2.6"/><circle cx="775.1" cy="38.1" r="2.6"/><circle cx="775.1" cy="48.1" r="2.6"/>
<path d="M769 41.8L772.9 39.4M769 44.4L772.9 46.8"/></g>
<!-- signpost -->
<path d="M826.2 34.3V36.4M818.3 36.5H832.6L835.6 40.1L832.6 43.6H818.3Z M826.2 43.6V51.2M823.8 51.4H828.7" stroke="#555" stroke-width="1.1" stroke-linejoin="round"/>
<!-- show me icon -->
<rect x="853.7" y="35.6" width="12" height="2.8" fill="#735c8e"/>
<rect x="853.7" y="39.6" width="16" height="2.8" fill="#7b9bcb"/>
<rect x="853.7" y="43.8" width="6.5" height="2.8" fill="#e9a064"/>
<rect x="853.7" y="47.9" width="9.2" height="2.8" fill="#dc5f73"/>
</svg>

<div class="t" style="left:557.3px;top:37.3px;font-size:12.5px;color:#333">Standard</div>
</body></html>
